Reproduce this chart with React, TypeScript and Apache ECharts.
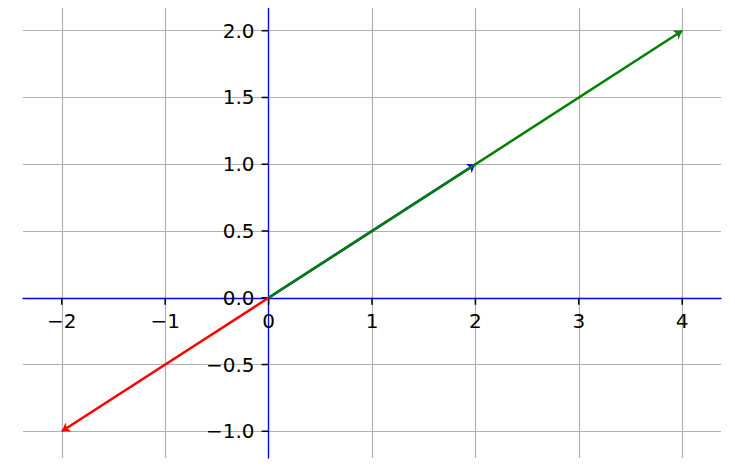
import React, { useEffect, useRef } from "react";
import * as echarts from "echarts";

const xTicks = [-2, -1, 0, 1, 2, 3, 4];
const yTicks = [-1, -0.5, 0, 0.5, 1, 1.5, 2];
const xRange = [-2.375, 4.375];
const yRange = [-1.2, 2.2];

// vectors drawn from the origin (drawing order: red, blue, green)
const vectorNames = ["red", "blue", "green"];
const vectorColors = ["#ff0000", "#0000ff", "#008000"];
const vectorX = [-2, 2, 4];
const vectorY = [-1, 1, 2];

const minus = (s: string) => s.replace("-", "\u2212");

export default function App() {
  const ref = useRef<HTMLDivElement>(null);
  useEffect(() => {
    if (!ref.current) return;
    const chart = echarts.init(ref.current, null, { renderer: "svg" });
    const font = { fontFamily: "DejaVu Sans", fontSize: 20, color: "#000" };
    const axisCommon = {
      type: "value",
      axisLine: { onZero: true, lineStyle: { color: "#0000ff", width: 1.3 } },
      axisLabel: { show: false },
      splitLine: { show: true, lineStyle: { color: "#b0b0b0", width: 1.2 } },
    };
    chart.setOption({
      animation: false,
      backgroundColor: "#ffffff",
      grid: { left: 23, right: 14, top: 4, bottom: 13, containLabel: false, outerBoundsMode: "none" },
      xAxis: {
        ...axisCommon,
        min: xRange[0],
        max: xRange[1],
        axisTick: { show: false, customValues: xTicks },
      },
      yAxis: {
        ...axisCommon,
        min: yRange[0],
        max: yRange[1],
        axisTick: { show: false, customValues: yTicks },
      },
      series: [
        {
          name: "xTicks",
          type: "scatter",
          silent: true,
          symbol: "rect",
          symbolSize: [1.5, 7],
          symbolOffset: [0, 3.5],
          itemStyle: { color: "#000", opacity: 1 },
          z: 2,
          label: {
            show: true,
            position: "bottom",
            distance: 6,
            ...font,
            formatter: (p: any) => minus(String(p.value[0])),
          },
          data: xTicks.map((v) => [v, 0]),
        },
        {
          name: "yTicks",
          type: "scatter",
          silent: true,
          symbol: "rect",
          symbolSize: [7, 1.5],
          symbolOffset: [-3.5, 0],
          itemStyle: { color: "#000", opacity: 1 },
          z: 2,
          label: {
            show: true,
            position: "left",
            distance: 7,
            ...font,
            formatter: (p: any) => minus(p.value[1].toFixed(1)),
          },
          data: yTicks.map((v) => [0, v]),
        },
        ...vectorNames.map((name, i) => ({
          name,
          type: "lines",
          coordinateSystem: "cartesian2d",
          symbol: ["none", "arrow"],
          symbolSize: 8,
          z: 3 + i,
          silent: true,
          lineStyle: { color: vectorColors[i], width: 2.5, opacity: 1, curveness: 0 },
          data: [{ coords: [[0, 0], [vectorX[i], vectorY[i]]] }],
        })),
      ],
    });
    return () => chart.dispose();
  }, []);
  return <div ref={ref} style={{ width: 735, height: 471, marginLeft: -8, marginTop: -8 }} />;
}
